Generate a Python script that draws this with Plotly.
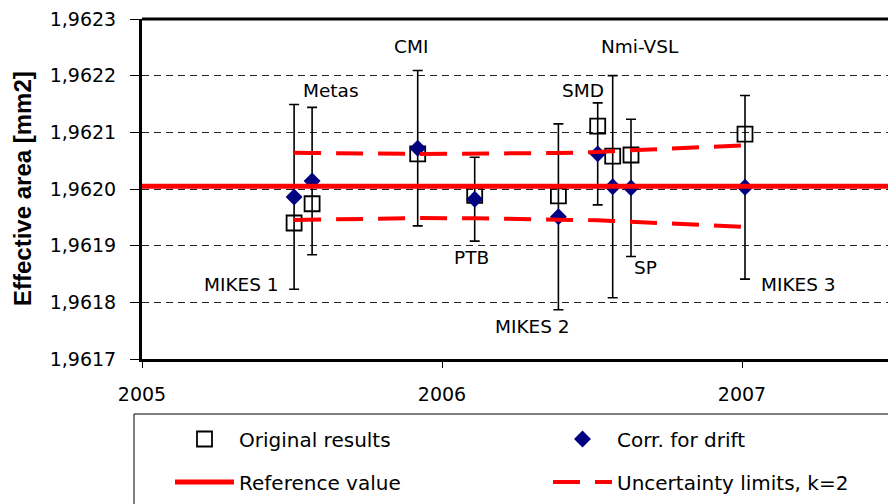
import plotly.graph_objects as go

# ---- data ----
labs = ["MIKES 1", "Metas", "CMI", "PTB", "MIKES 2", "SMD", "Nmi-VSL", "SP", "MIKES 3"]
dates = [2005.507, 2005.567, 2005.919, 2006.109, 2006.388, 2006.519, 2006.569, 2006.630, 2007.010]
original = [1.961940, 1.961974, 1.962062, 1.961989, 1.961988, 1.962111, 1.962058, 1.962060, 1.962097]
corrected = [1.961986, 1.962014, 1.962072, 1.961982, 1.961951, 1.962062, 1.962004, 1.962002, 1.962003]
unc_k2 = [0.000163, 0.000130, 0.000137, 0.000074, 0.000164, 0.000090, 0.000196, 0.000121, 0.000162]
ref_value = 1.962005
ref_span = [2005.0, 2008.0]
upper_lim = [1.9620641, 1.9620635, 1.9620618, 1.9620618, 1.9620635, 1.9620653, 1.9620671, 1.9620683, 1.9620771]
lower_lim = [1.9619453, 1.9619458, 1.9619488, 1.9619483, 1.9619465, 1.9619448, 1.9619435, 1.9619423, 1.9619329]

label_x = [2005.333, 2005.630, 2005.897, 2006.097, 2006.303, 2006.470, 2006.660, 2006.677, 2007.187]
label_y = [1.961832, 1.962173, 1.962251, 1.961879, 1.961757, 1.962173, 1.962251, 1.961862, 1.961832]

x_ticks = [2005, 2006, 2007]
y_ticks = [1.9617, 1.9618, 1.9619, 1.9620, 1.9621, 1.9622, 1.9623]

W, H = 888, 504
ML, MR, MT, MB = 142, 0, 19, 145
PW, PH = W - ML - MR, H - MT - MB


def px_x(p):
    return (p - ML) / PW


def px_y(p):
    return (H - MB - p) / PH


TICK_FONT = dict(family="DejaVu Sans", size=19, color="black")
LEG_FONT = dict(family="DejaVu Sans", size=20, color="black")

fig = go.Figure()

fig.add_trace(go.Scatter(
    x=dates, y=original, mode="markers", name="Original results",
    marker=dict(symbol="square-open", size=15, color="black", line=dict(width=1.8, color="black")),
    legend="legend",
))
fig.add_trace(go.Scatter(
    x=dates, y=corrected, mode="markers", name="Corr. for drift",
    marker=dict(symbol="diamond", size=13, color="#000080"),
    error_y=dict(type="data", array=unc_k2, visible=True, color="black", thickness=1.6, width=5),
    legend="legend2",
))
fig.add_trace(go.Scatter(
    x=ref_span, y=[ref_value, ref_value], mode="lines", name="Reference value",
    line=dict(color="#ff0000", width=5),
    legend="legend3",
))
fig.add_trace(go.Scatter(
    x=dates + [None] + dates, y=upper_lim + [None] + lower_lim, mode="lines",
    name="Uncertainty limits, k=2",
    line=dict(color="#ff0000", width=4, dash="27px,15px"),
    connectgaps=False,
    legend="legend4",
))

for t, xx, yy in zip(labs, label_x, label_y):
    fig.add_annotation(x=xx, y=yy, text=t, showarrow=False, xanchor="center", yanchor="middle",
                       font=dict(family="DejaVu Sans", size=18.5, color="black"))

fig.add_annotation(xref="paper", yref="paper", x=px_x(22), y=0.5, text="<b>Effective area [mm2]</b>",
                   textangle=-90, showarrow=False, xanchor="center", yanchor="middle",
                   font=dict(family="Liberation Sans", size=24, color="black"))

# top frame line and legend box
fig.add_shape(type="line", xref="paper", yref="paper", x0=0, x1=1, y0=1, y1=1,
              line=dict(color="black", width=3))
fig.add_shape(type="rect", xref="paper", yref="paper", x0=px_x(134), x1=1.1, y0=px_y(414), y1=-0.6,
              line=dict(color="black", width=1), fillcolor="rgba(0,0,0,0)")

leg_common = dict(orientation="v", xanchor="left", yanchor="middle", font=LEG_FONT,
                  bgcolor="rgba(0,0,0,0)", borderwidth=0, itemwidth=59)

fig.update_layout(
    template="none",
    width=W, height=H,
    margin=dict(l=ML, r=MR, t=MT, b=MB, pad=0),
    paper_bgcolor="white", plot_bgcolor="white",
    separators=", ",
    showlegend=True,
    legend=dict(x=px_x(170), y=px_y(439), **leg_common),
    legend2=dict(x=px_x(548), y=px_y(439), **leg_common),
    legend3=dict(x=px_x(170), y=px_y(482), **leg_common),
    legend4=dict(x=px_x(548), y=px_y(482), **leg_common),
    xaxis=dict(range=[2005, 2005 + PW / 300.0], tickvals=x_ticks, ticktext=[str(v) for v in x_ticks],
               showgrid=False, zeroline=False, showline=True, linecolor="black", linewidth=3,
               ticks="outside", ticklen=6, tickwidth=1, tickcolor="black",
               tickfont=TICK_FONT, ticklabelstandoff=10),
    yaxis=dict(range=[1.9617, 1.9623], tickvals=y_ticks, tickformat=".4f",
               showgrid=True, gridcolor="#222222", gridwidth=1, griddash="7px,5px",
               zeroline=False, showline=True, linecolor="black", linewidth=3,
               ticks="outside", ticklen=9, tickwidth=1, tickcolor="black",
               tickfont=TICK_FONT, ticklabelstandoff=10),
)

fig.write_html("out.html", config={"displayModeBar": False},
               post_script="document.body.style.margin='0px';document.body.style.overflow='hidden';")
